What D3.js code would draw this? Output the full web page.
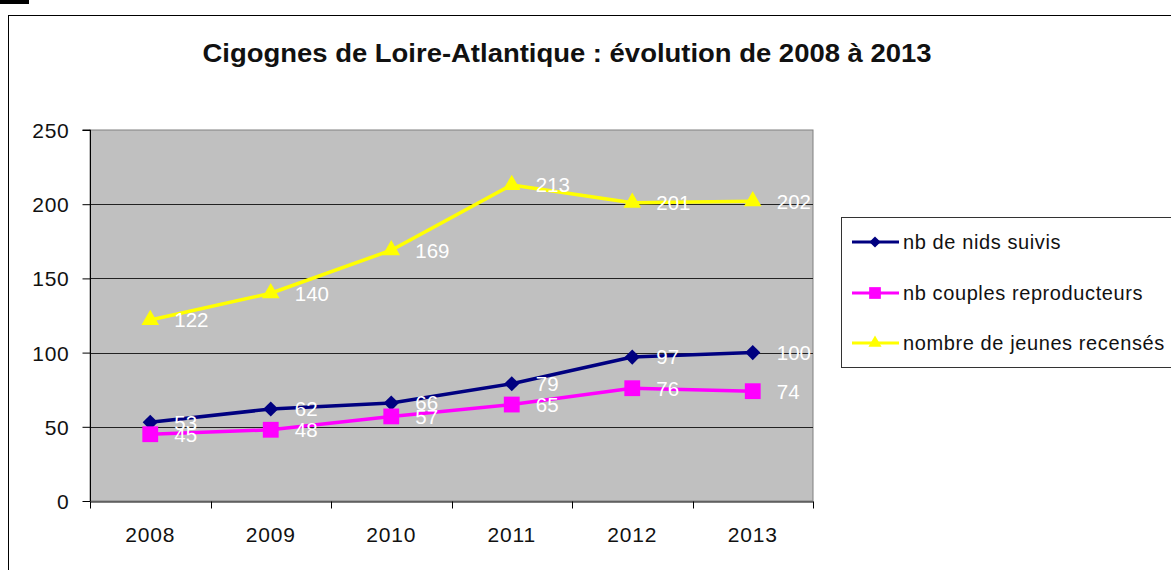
<!DOCTYPE html>
<html><head><meta charset="utf-8">
<script src="https://cdn.jsdelivr.net/npm/d3@7"></script>
<style>
html,body{margin:0;padding:0;background:#fff;overflow:hidden}
svg{display:block;font-family:"Liberation Sans",Arial,sans-serif}
</style></head>
<body>
<svg id="chart" width="1171" height="570"></svg>
<script>
const years = ["2008","2009","2010","2011","2012","2013"];
const nids = [53, 62, 66, 79, 97, 100];
const couples = [45, 48, 57, 65, 76, 74];
const jeunes = [122, 140, 169, 213, 201, 202];
const yTicks = [0, 50, 100, 150, 200, 250];
const seriesNames = ["nb de nids suivis", "nb couples reproducteurs", "nombre de jeunes recensés"];
const seriesColors = ["#000080", "#ff00ff", "#ffff00"];
const seriesSymbols = ["diamond", "square", "triangle"];
const title = "Cigognes de Loire-Atlantique : évolution de 2008 à 2013";

const series = [nids, couples, jeunes].map((vals, i) => ({
  name: seriesNames[i], color: seriesColors[i], symbol: seriesSymbols[i],
  values: vals.map((v, j) => ({year: years[j], value: v}))
}));

const svg = d3.select("#chart");
const plot = {left: 90, top: 130, right: 813, bottom: 501};
const FONT = '"Liberation Sans",Arial,sans-serif';

// black mark top-left
svg.append("rect").attr("x", 0).attr("y", 0).attr("width", 29).attr("height", 4).attr("fill", "#000");
// outer chart border
svg.append("rect").attr("x", 8.5).attr("y", 15.5).attr("width", 1200).attr("height", 600)
  .attr("fill", "#fff").attr("stroke", "#000").attr("stroke-width", 1);

// title
svg.append("text").attr("x", 567).attr("y", 62).attr("text-anchor", "middle")
  .attr("font-size", 25).attr("font-weight", "bold").attr("fill", "#111")
  .attr("textLength", 729).attr("lengthAdjust", "spacingAndGlyphs")
  .text(title);

const x = d3.scaleBand().domain(years).range([plot.left, plot.right]);
const y = d3.scaleLinear().domain([0, 250]).range([plot.bottom, plot.top]);

// plot area
svg.append("rect").attr("x", plot.left).attr("y", plot.top)
  .attr("width", plot.right - plot.left).attr("height", plot.bottom - plot.top)
  .attr("fill", "#c0c0c0").attr("stroke", "#808080").attr("stroke-width", 1);

// gridlines
svg.append("g").selectAll("line").data(yTicks.filter(t => t > 0 && t < 250)).join("line")
  .attr("x1", plot.left).attr("x2", plot.right)
  .attr("y1", d => Math.round(y(d)) + 0.5).attr("y2", d => Math.round(y(d)) + 0.5)
  .attr("stroke", "#222").attr("stroke-width", 1);

// y axis
const yAxis = svg.append("g").attr("transform", `translate(${plot.left + 0.5},0)`)
  .call(d3.axisLeft(y).tickValues(yTicks).tickSize(8).tickPadding(13));
yAxis.select(".domain").attr("stroke", "#000").attr("d", `M-8,${plot.top}H0V${plot.bottom}`);
yAxis.selectAll("text").attr("font-size", 21).attr("fill", "#111")
  .attr("font-family", FONT).attr("dy", "0.36em").attr("letter-spacing", 0.7);

// x axis
const xAxis = svg.append("g").attr("transform", `translate(0,${plot.bottom + 0.5})`)
  .call(d3.axisBottom(x).tickSize(0).tickPadding(26));
xAxis.select(".domain").attr("stroke", "#000");
xAxis.selectAll("text").attr("font-size", 21).attr("fill", "#111")
  .attr("font-family", FONT).attr("letter-spacing", 0.8);
// tick marks at category boundaries
const bounds = years.map(yy => x(yy)).concat([plot.right]);
xAxis.append("g").selectAll("line").data(bounds).join("line")
  .attr("x1", d => Math.round(d) + 0.5).attr("x2", d => Math.round(d) + 0.5)
  .attr("y1", 0).attr("y2", 7).attr("stroke", "#000");

const cx = d => x(d.year) + x.bandwidth() / 2;
const line = d3.line().x(cx).y(d => y(d.value));
const symType = {diamond: d3.symbolSquare, square: d3.symbolSquare, triangle: d3.symbolTriangle};
const symRot = {diamond: " rotate(45)", square: "", triangle: ""};
const symSize = {diamond: 115, square: 250, triangle: 135};

series.forEach(s => {
  const g = svg.append("g");
  g.append("path").datum(s.values).attr("d", line).attr("fill", "none")
    .attr("stroke", s.color).attr("stroke-width", 3.5).attr("stroke-linejoin", "round");
  g.selectAll("path.m").data(s.values).join("path").attr("class", "m")
    .attr("transform", d => `translate(${cx(d)},${y(d.value)})` + symRot[s.symbol])
    .attr("d", d3.symbol().type(symType[s.symbol]).size(symSize[s.symbol]))
    .attr("fill", s.color);
});

// data labels
series.forEach(s => {
  svg.append("g").selectAll("text").data(s.values).join("text")
    .attr("x", d => cx(d) + 24).attr("y", d => y(d.value))
    .attr("dy", "0.36em").attr("font-size", 20.5).attr("fill", "#fff")
    .text(d => d.value);
});

// legend
const lg = svg.append("g");
lg.append("rect").attr("x", 841.5).attr("y", 217.5).attr("width", 400).attr("height", 150)
  .attr("fill", "#fff").attr("stroke", "#333").attr("stroke-width", 1);
const rowY = [242, 293, 343];
series.forEach((s, i) => {
  lg.append("line").attr("x1", 852).attr("x2", 899).attr("y1", rowY[i]).attr("y2", rowY[i])
    .attr("stroke", s.color).attr("stroke-width", 3);
  lg.append("path").attr("transform", `translate(875,${rowY[i]})` + symRot[s.symbol])
    .attr("d", d3.symbol().type(symType[s.symbol]).size(symSize[s.symbol] * 0.55)).attr("fill", s.color);
  lg.append("text").attr("x", 903).attr("y", rowY[i]).attr("dy", "0.36em")
    .attr("font-size", 20).attr("letter-spacing", 0.6).attr("fill", "#111").text(s.name);
});
</script>
</body></html>
